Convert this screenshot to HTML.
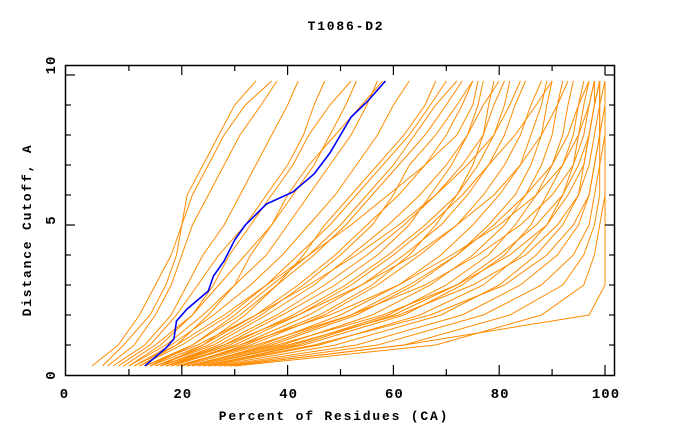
<!DOCTYPE html>
<html><head><meta charset="utf-8"><style>
body{margin:0;background:#fff;}
svg{display:block;font-family:"Liberation Mono",monospace;font-weight:bold;}
</style></head><body>
<svg id="chart" width="680" height="440">
<text x="346" y="30" text-anchor="middle" font-size="13" letter-spacing="1.8">T1086-D2</text>
<text x="334" y="420" text-anchor="middle" font-size="13" letter-spacing="1.8">Percent of Residues (CA)</text>
<text transform="translate(31,230) rotate(-90)" text-anchor="middle" font-size="13" letter-spacing="1.8">Distance Cutoff, A</text>
<g id="plot"></g>
<g id="axes"></g>
</svg>
<script>
const levels=[0.3,1,2,3,4,5,6,7,8,9,9.8];
const orangeCurves=[
[3,8,12,15,18,20,21,24,27,30,34],
[5,9,14,17,19,20,22,25,28,32,37],
[6,11,15,18,20,22,25,28,31,35,38],
[7,13,18,21,24,28,31,34,37,40,42],
[8,14,19,23,27,32,36,40,43,45,47],
[9,15,22,27,32,37,41,45,48,51,53],
[10,17,24,30,36,40,44,48,52,55,57],
[11,18,26,33,39,44,49,53,57,60,63],
[12,20,29,36,42,48,53,58,63,67,70],
[13,22,31,38,45,51,56,61,66,70,73],
[14,24,34,42,49,55,61,66,70,73,75],
[15,26,36,45,52,59,65,70,74,77,80],
[16,27,38,47,55,62,68,73,77,79,81],
[17,29,41,51,59,66,72,76,79,81,82],
[18,31,44,54,62,69,74,78,81,83,85],
[19,33,47,57,65,72,77,81,84,86,88],
[20,35,50,61,69,75,80,84,86,88,89],
[21,37,53,64,72,78,83,86,88,89,90],
[22,39,56,67,75,81,85,88,90,91,92],
[23,41,59,70,78,83,87,90,92,93,94],
[24,43,62,73,81,86,89,92,94,95,96],
[25,46,65,77,84,89,92,94,95,96,97],
[26,49,69,80,87,92,95,96,97,98,98],
[27,53,73,84,91,95,97,98,99,99,99],
[28,57,77,88,94,97,98,99,99,100,100],
[29,62,82,92,96,98,99,99,100,100,100],
[30,68,88,96,98,99,100,100,100,100,100],
[29,62,97,100,100,100,100,100,100,100,100],
[12,19,25,30,33,37,40,44,49,54,58],
[14,22,30,37,44,50,55,60,64,68,72],
[17,28,39,49,57,63,67,71,74,76,77],
[20,32,46,56,63,68,72,75,77,78,79],
[15,25,35,43,50,56,60,63,68,72,75],
[18,30,42,52,60,67,73,78,83,87,90],
[22,36,52,63,72,79,85,90,93,95,97],
[25,42,60,72,80,87,92,95,97,98,99],
[16,24,32,38,43,47,52,57,62,66,68],
[10,16,22,26,29,33,37,41,44,48,52],
[19,34,52,66,76,84,90,94,96,97,98],
[21,38,58,72,82,89,93,96,97,98,99],
[17,31,48,61,71,80,87,92,95,97,98],
[23,40,61,75,85,91,95,97,98,99,99],
[13,23,34,44,53,61,68,74,79,82,84],
[16,28,42,54,64,72,79,84,88,91,93],
[24,45,67,81,89,94,97,98,99,99,100],
[11,19,28,36,44,52,59,66,72,75,76]
];
const blueX=[13,15,17,18.5,19,21,23,25,26,28,30,32,36,41,45,48,50,52,55,58.5];
const blueY=[0.3,0.6,0.9,1.2,1.8,2.2,2.5,2.8,3.3,3.8,4.5,5,5.7,6.1,6.7,7.4,8,8.6,9.1,9.8];
const xTicks=[20,40,60,80,100];
const xTickLabels=["20","40","60","80","100"];
const yTicks=[0,5,10];
const yTickLabels=["0","5","10"];

const X=v=>76+5.29*v, Y=v=>375-30*v;
const NS="http://www.w3.org/2000/svg";
const plot=document.getElementById('plot'), axes=document.getElementById('axes');
function mk(tag,attrs,parent){const e=document.createElementNS(NS,tag);for(const k in attrs)e.setAttribute(k,attrs[k]);parent.appendChild(e);return e;}
orangeCurves.forEach((c,i)=>{
  const p=mk('polyline',{points:c.map((v,j)=>X(v).toFixed(1)+','+Y(levels[j]).toFixed(1)).join(' '),fill:'none',stroke:'#ff8c00','stroke-width':1},plot);
  
  
});
const b=mk('polyline',{points:blueX.map((v,j)=>X(v).toFixed(1)+','+Y(blueY[j]).toFixed(1)).join(' '),fill:'none',stroke:'#0000ff','stroke-width':1.6},plot);



const fr=mk('rect',{x:65.5,y:65.5,width:549,height:310,fill:'none',stroke:'#000','stroke-width':1.5},axes);


for(let v=10;v<=100;v+=10){
  const major=v%20===0, L=major?10:6, x=X(v);
  mk('line',{x1:x,y1:375,x2:x,y2:375-L,stroke:'#000','stroke-width':1.2},axes);
  mk('line',{x1:x,y1:65,x2:x,y2:65+L,stroke:'#000','stroke-width':1.2},axes);
}
for(let v=1;v<=10;v++){
  const major=v%5===0, L=major?10:6, y=Y(v);
  mk('line',{x1:65,y1:y,x2:65+L,y2:y,stroke:'#000','stroke-width':1.2},axes);
  mk('line',{x1:615,y1:y,x2:615-L,y2:y,stroke:'#000','stroke-width':1.2},axes);
}
xTicks.forEach((v,i)=>{
  const t=mk('text',{x:X(v)+1,y:398,'text-anchor':'middle','font-size':14,'letter-spacing':1},axes);
  t.textContent=xTickLabels[i];
  
  
});
const t0=mk('text',{x:64,y:398,'text-anchor':'middle','font-size':14},axes);
t0.textContent="0";


yTicks.forEach((v,i)=>{
  const t=mk('text',{transform:`translate(55,${Y(v)-(v===10?10:(v===5?5:0))}) rotate(-90)`,'text-anchor':'middle','font-size':14,'letter-spacing':1},axes);
  t.textContent=yTickLabels[i];
  
  
});
</script>
</body></html>
